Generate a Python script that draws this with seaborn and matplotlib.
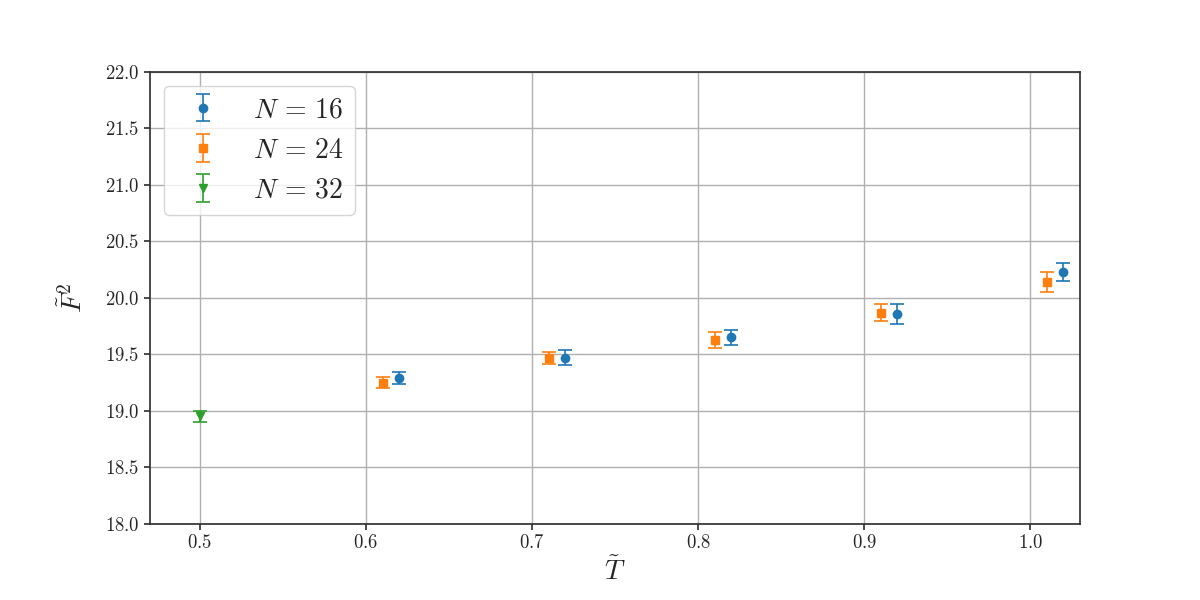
import matplotlib
matplotlib.use("Agg")
import matplotlib.pyplot as plt
import seaborn as sns

# data
t_16 = [0.62, 0.72, 0.82, 0.92, 1.02]
f_16 = [19.29, 19.47, 19.65, 19.86, 20.23]
e_16 = [0.05, 0.065, 0.07, 0.09, 0.08]

t_24 = [0.61, 0.71, 0.81, 0.91, 1.01]
f_24 = [19.25, 19.47, 19.63, 19.87, 20.14]
e_24 = [0.05, 0.055, 0.07, 0.075, 0.085]

t_32 = [0.50]
f_32 = [18.95]
e_32 = [0.05]

series = [
    (t_16, f_16, e_16, "o", r"$N\,=\,16$"),
    (t_24, f_24, e_24, "s", r"$N\,=\,24$"),
    (t_32, f_32, e_32, "v", r"$N\,=\,32$"),
]

sns.set_theme(style="ticks")
plt.rcParams["font.family"] = ["serif"]
plt.rcParams["font.serif"] = ["cmr10", "DejaVu Serif"]
plt.rcParams["mathtext.fontset"] = "cm"
plt.rcParams["axes.formatter.use_mathtext"] = True
plt.rcParams["axes.edgecolor"] = "#333333"

colors = sns.color_palette("tab10")

fig, ax = plt.subplots(figsize=(12, 6), dpi=100)
fig.subplots_adjust(left=0.125, right=0.9, top=0.88, bottom=0.127)

for i, (t, f, e, m, lab) in enumerate(series):
    ax.errorbar(t, f, yerr=e, fmt=m, color=colors[i], capsize=5,
                markersize=6, elinewidth=1.2, capthick=1.2, label=lab)

ax.set_xlim(0.47, 1.03)
ax.set_ylim(18.0, 22.0)
ax.set_xticks([0.5, 0.6, 0.7, 0.8, 0.9, 1.0])
ax.set_yticks([18.0, 18.5, 19.0, 19.5, 20.0, 20.5, 21.0, 21.5, 22.0])
ax.tick_params(labelsize=13.5, length=4, color="#333333")
ax.grid(True, color="#b0b0b0", linewidth=1.0)
ax.set_axisbelow(True)

ax.set_xlabel(r"$\tilde{T}$", fontsize=20)
ax.set_ylabel(r"$\tilde{F}^2$", fontsize=20, labelpad=12)

ax.legend(loc="upper left", fontsize=20, frameon=True, borderaxespad=0.5,
          handletextpad=0.8)

fig.savefig("out.png", dpi=100)
